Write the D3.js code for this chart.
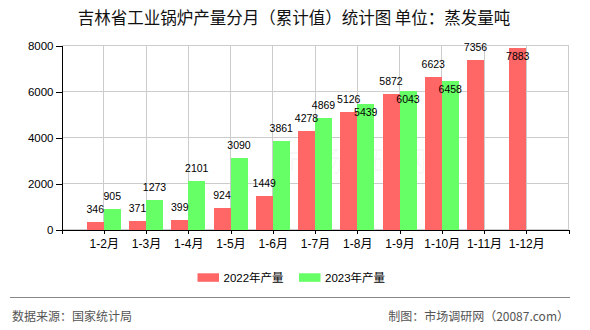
<!DOCTYPE html>
<html>
<head>
<meta charset="utf-8">
<script src="https://cdn.jsdelivr.net/npm/d3@7"></script>
<style>
  html, body { margin: 0; padding: 0; background: #fff; }
  svg { display: block; }
</style>
</head>
<body>
<svg id="chart" width="590" height="330"></svg>
<script>
// Monthly cumulative output, unit: tonnes of evaporation
const categories = ["1-2月", "1-3月", "1-4月", "1-5月", "1-6月", "1-7月", "1-8月", "1-9月", "1-10月", "1-11月", "1-12月"];
const values2022 = [346, 371, 399, 924, 1449, 4278, 5126, 5872, 6623, 7356, 7883];
const values2023 = [905, 1273, 2101, 3090, 3861, 4869, 5439, 6043, 6458, null, null];
const yTicks = [0, 2000, 4000, 6000, 8000];
const seriesNames = ["2022年产量", "2023年产量"];
const seriesColors = ["#ff6666", "#66ff66"];

const svg = d3.select("#chart");
const numFont = "'Liberation Sans', Arial, sans-serif";
const cjkFont = "'Liberation Sans', 'Noto Sans CJK SC', sans-serif";

const plotLeft = 61.5, plotRight = 568.5, plotTop = 45.5, plotBottom = 229.5;
const x = d3.scalePoint().domain(categories).range([plotLeft, plotRight]).padding(1);
const y = d3.scaleLinear().domain([0, 8000]).range([plotBottom, plotTop]);
const barW = 17;

// Title
svg.append("text")
  .attr("x", 294).attr("y", 24)
  .attr("text-anchor", "middle")
  .attr("font-family", "'Noto Sans CJK SC', sans-serif")
  .attr("font-size", "16.5px")
  .attr("fill", "#111")
  .text("吉林省工业锅炉产量分月（累计值）统计图 单位：蒸发量吨");

// Grid
const grid = svg.append("g").attr("stroke", "#cccccc").attr("stroke-width", 1).attr("shape-rendering", "crispEdges");
yTicks.forEach(t => {
  grid.append("line").attr("x1", plotLeft).attr("x2", plotRight).attr("y1", y(t)).attr("y2", y(t));
});
categories.forEach(c => {
  grid.append("line").attr("x1", x(c)).attr("x2", x(c)).attr("y1", plotTop).attr("y2", plotBottom);
});
grid.append("line").attr("x1", plotRight).attr("x2", plotRight).attr("y1", plotTop).attr("y2", plotBottom);

// Faint site mark behind the bars
svg.append("text")
  .attr("x", 287).attr("y", 172)
  .attr("font-family", "'Noto Sans CJK SC', sans-serif")
  .attr("font-size", "28px")
  .attr("fill", "#000").attr("fill-opacity", 0.035)
  .text("市场调研网");

// Bars
const bars = svg.append("g").attr("shape-rendering", "crispEdges");
categories.forEach((c, i) => {
  bars.append("rect")
    .attr("x", x(c) - barW).attr("width", barW)
    .attr("y", y(values2022[i])).attr("height", y(0) - y(values2022[i]))
    .attr("fill", seriesColors[0]);
  if (values2023[i] != null) {
    bars.append("rect")
      .attr("x", x(c)).attr("width", barW)
      .attr("y", y(values2023[i])).attr("height", y(0) - y(values2023[i]))
      .attr("fill", seriesColors[1]);
  }
});

// Value labels: above the bar, pushed inside when they would collide
const labels = svg.append("g")
  .attr("font-family", numFont).attr("font-size", "10.5px")
  .attr("fill", "#000").attr("text-anchor", "middle");
const textH = 8;
categories.forEach((c, i) => {
  const r = values2022[i];
  let rBase = y(r) - 9;
  if (rBase - textH < 40) rBase = y(r) + 12;
  labels.append("text").attr("x", x(c) - barW / 2).attr("y", rBase).text(r);
  const g = values2023[i];
  if (g != null) {
    let gBase = y(g) - 9;
    const overlap = gBase > rBase - textH && gBase - textH < rBase;
    if (overlap) gBase = y(g) + 12;
    labels.append("text").attr("x", x(c) + barW / 2).attr("y", gBase).text(g);
  }
});

// Axes
const yAxis = svg.append("g")
  .attr("transform", `translate(${plotLeft},0)`)
  .call(d3.axisLeft(y).tickValues(yTicks).tickSize(6).tickSizeOuter(0).tickPadding(2).tickFormat(d3.format("d")));
yAxis.selectAll("text").attr("font-family", numFont).attr("font-size", "11.5px").attr("fill", "#000");

const xAxis = svg.append("g")
  .attr("transform", `translate(0,${plotBottom})`)
  .call(d3.axisBottom(x).tickSize(4).tickSizeOuter(4).tickPadding(6));
xAxis.selectAll("text").attr("font-family", cjkFont).attr("font-size", "12px").attr("fill", "#000");
svg.selectAll(".domain, .tick line").attr("stroke", "#000").attr("shape-rendering", "crispEdges");

// Legend
const legend = svg.append("g");
const legendX = [197.5, 299];
seriesNames.forEach((name, i) => {
  legend.append("rect")
    .attr("x", legendX[i]).attr("y", 273.3).attr("width", 21.5).attr("height", 8.5)
    .attr("fill", seriesColors[i]);
  legend.append("text")
    .attr("x", legendX[i] + 26).attr("y", 281.5)
    .attr("font-family", cjkFont).attr("font-size", "11.5px").attr("fill", "#000")
    .text(name);
});

// Footer
svg.append("line")
  .attr("x1", 10).attr("x2", 570).attr("y1", 297.5).attr("y2", 297.5)
  .attr("stroke", "#888").attr("stroke-width", 1);
svg.append("text")
  .attr("x", 12).attr("y", 320.5)
  .attr("font-family", "'Noto Sans CJK SC', sans-serif").attr("font-size", "12px").attr("fill", "#555")
  .text("数据来源：国家统计局");
svg.append("text")
  .attr("x", 569).attr("y", 320.5).attr("text-anchor", "end")
  .attr("font-family", "'Noto Sans CJK SC', sans-serif").attr("font-size", "12px").attr("fill", "#555")
  .text("制图：市场调研网（20087.com）");
</script>
</body>
</html>
